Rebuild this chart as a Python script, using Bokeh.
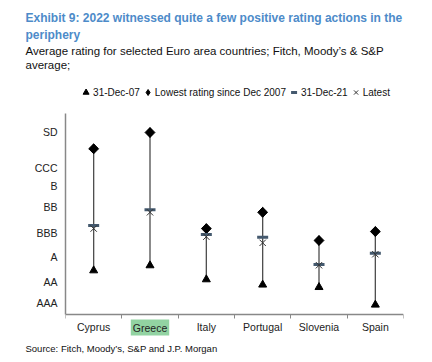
from bokeh.plotting import figure
from bokeh.models import (Range1d, FixedTicker, Label, Legend, LegendItem,
                          ColumnDataSource, Title)
from bokeh.embed import file_html
from bokeh.resources import INLINE
import math

# ---- data (rating scale in notches, AAA=1 ... SD=22) ----
countries = ["Cyprus", "Greece", "Italy", "Portugal", "Slovenia", "Spain"]
dec07 = [5.05, 5.67, 3.95, 3.3, 3.0, 0.84]
lowest = [20.0, 22.0, 10.2, 12.2, 8.74, 9.84]
dec21 = [10.58, 12.5, 9.47, 9.14, 5.79, 7.18]
latest = [10.2, 12.2, 9.2, 8.45, 5.7, 7.05]
rating_labels = ["AAA", "AA", "A", "BBB", "BB", "B", "CCC", "SD"]
rating_ticks = [1, 3.58, 6.77, 9.6, 12.9, 15.4, 17.6, 22]

FONT = "Liberation Sans"
BLUE = "#4d8bc9"

xs = [i + 0.5 for i in range(len(countries))]
lo = [min(a, b, c, d) for a, b, c, d in zip(dec07, lowest, dec21, latest)]
hi = [max(a, b, c, d) for a, b, c, d in zip(dec07, lowest, dec21, latest)]

AXIS_LO, AXIS_HI = -0.35, 24.3      # extent of the drawn axes
LABEL_Y = -1.95                     # level of the highlighted category label

p = figure(width=432, height=362, output_backend="svg", toolbar_location=None,
           title=None,
           x_range=Range1d(0, len(countries)), y_range=Range1d(-3.544, 29.49),
           min_border_left=65, min_border_right=29, min_border_top=71,
           min_border_bottom=22)
p.outline_line_color = None
p.grid.visible = False
p.background_fill_color = "white"
p.border_fill_color = "white"

src = ColumnDataSource(dict(x=xs, lo=lo, hi=hi, dec07=dec07, lowest=lowest,
                            dec21=dec21, latest=latest))

p.segment(x0="x", y0="lo", x1="x", y1="hi", source=src,
          line_color="#4d4d4d", line_width=1.3)
r1 = p.scatter(x="x", y="dec07", source=src, marker="triangle", size=8,
               fill_color="black", line_color="black")
p.scatter(x="x", y="lowest", source=src, marker="square", size=7,
          angle=math.pi / 4, fill_color="black", line_color="black")
r2 = p.scatter(x="x", y="lowest", source=src, marker="diamond", size=9.5,
               fill_color="black", line_color="black")
r3 = p.scatter(x="x", y="dec21", source=src, marker="dash", size=11,
               line_color="#44596e", line_width=3)
r4 = p.scatter(x="x", y="latest", source=src, marker="x", size=9,
               line_color="#333333", line_width=1)

legend = Legend(items=[LegendItem(label="31-Dec-07", renderers=[r1]),
                       LegendItem(label="Lowest rating since Dec 2007", renderers=[r2]),
                       LegendItem(label="31-Dec-21", renderers=[r3]),
                       LegendItem(label="Latest", renderers=[r4])],
                orientation="horizontal", location="top_center",
                glyph_width=15, glyph_height=16, label_standoff=0, spacing=0,
                padding=0, margin=13, border_line_alpha=0,
                background_fill_alpha=0, label_text_font=FONT,
                label_text_font_size="10px", label_height=16,
                label_text_color="#111111")
p.add_layout(legend, "center")

# title / subtitle stacked above the plot
p.add_layout(Title(text="average;", align="left", offset=-40, standoff=1,
                   text_font=FONT, text_font_size="11.5px",
                   text_font_style="normal", text_color="#111111"), "above")
p.add_layout(Title(text="Average rating for selected Euro area countries; Fitch, Moody\u2019s & S&P",
                   align="left", offset=-40, standoff=0, text_font=FONT,
                   text_font_size="11.5px", text_font_style="normal",
                   text_color="#111111"), "above")
p.add_layout(Title(text="periphery", align="left", offset=-40, standoff=1,
                   text_font=FONT, text_font_size="12px",
                   text_font_style="bold", text_color=BLUE), "above")
p.add_layout(Title(text="Exhibit 9: 2022 witnessed quite a few positive rating actions in the",
                   align="left", offset=-40, standoff=1, text_font=FONT,
                   text_font_size="12px", text_font_style="bold",
                   text_color=BLUE), "above")

# axes
xa = p.xaxis[0]
xa.fixed_location = AXIS_LO
xa.ticker = FixedTicker(ticks=xs, minor_ticks=list(range(len(countries) + 1)))
xa.major_label_overrides = {x: c for x, c in zip(xs, countries)}
xa.major_tick_line_color = None
xa.major_tick_in = 0
xa.major_tick_out = 0
xa.minor_tick_in = 0
xa.minor_tick_out = 4
xa.minor_tick_line_color = "#888888"
xa.axis_line_color = "#888888"
xa.axis_line_width = 1.5
xa.major_label_text_font = FONT
xa.major_label_text_font_size = "10.5px"
xa.major_label_text_color = "#222222"
xa.major_label_standoff = 3

ya = p.yaxis[0]
ya.bounds = (AXIS_LO, AXIS_HI)
ya.ticker = FixedTicker(ticks=rating_ticks)
ya.major_label_overrides = {t: l for t, l in zip(rating_ticks, rating_labels)}
ya.major_tick_line_color = None
ya.major_tick_in = 0
ya.major_tick_out = 0
ya.minor_tick_line_color = None
ya.axis_line_color = "#888888"
ya.axis_line_width = 1.5
ya.major_label_text_font = FONT
ya.major_label_text_font_size = "10.5px"
ya.major_label_text_color = "#222222"
ya.major_label_standoff = 8

# highlighted Greece label (drawn over the axis label, inside the frame)
p.add_layout(Label(x=xs[countries.index("Greece")], y=LABEL_Y, x_units="data",
                   y_units="data", text="Greece",
                   text_align="center", text_baseline="middle", text_font=FONT,
                   text_font_size="10.5px", text_color="#222222",
                   background_fill_color="#92d3a2", padding=2))

# source below
p.add_layout(Title(text="Source: Fitch, Moody\u2019s, S&P and J.P. Morgan",
                   align="left", offset=-40, standoff=0, text_font=FONT,
                   text_font_size="9.5px", text_font_style="normal",
                   text_color="#111111"), "below")

open("out.html", "w").write(file_html(p, INLINE))
